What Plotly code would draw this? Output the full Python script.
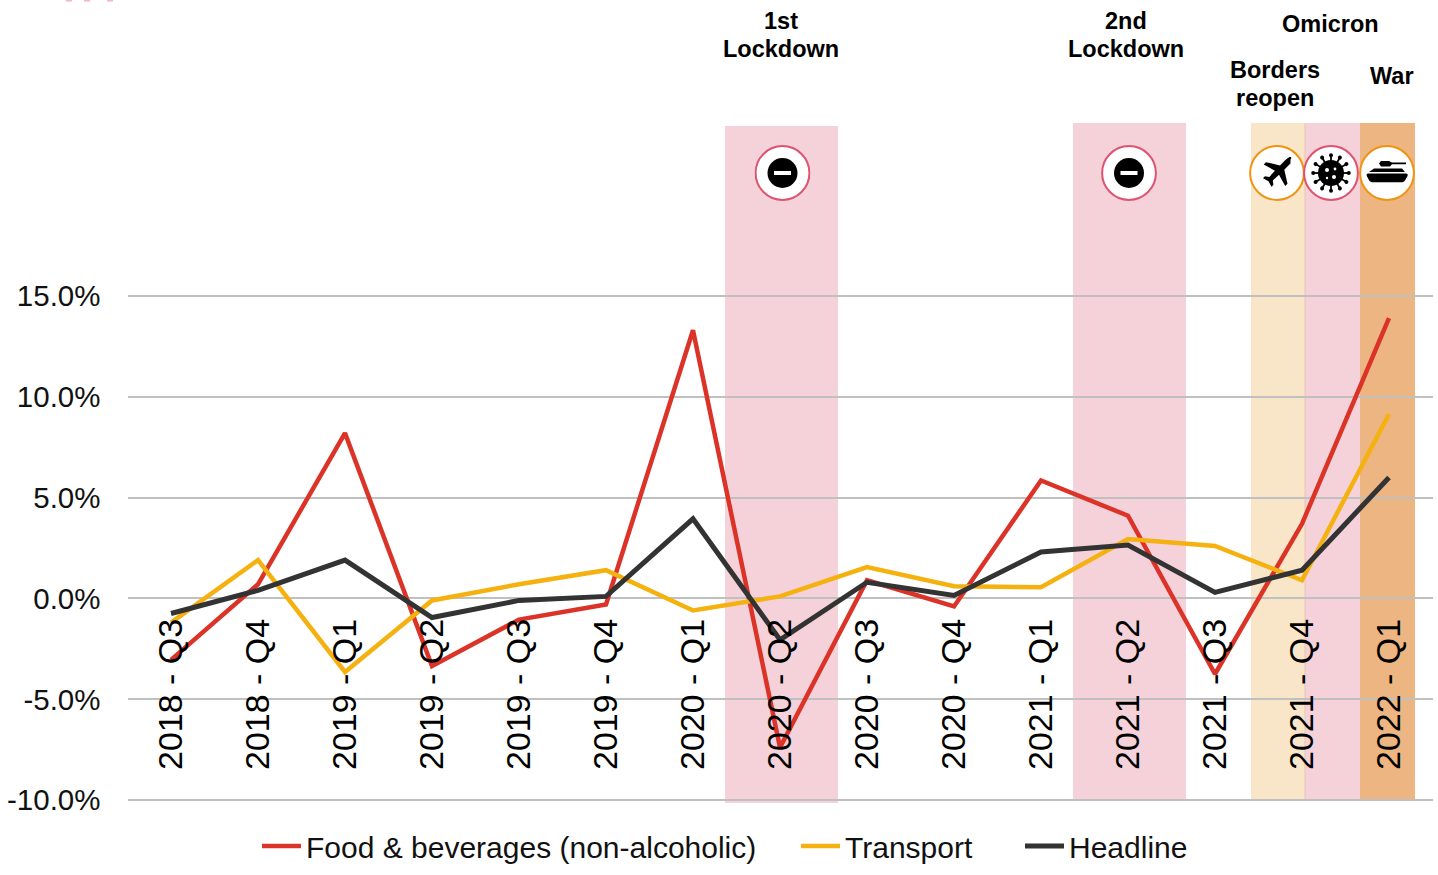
import base64
import plotly.graph_objects as go

W, H = 1438, 875
categories = ["2018 - Q3", "2018 - Q4", "2019 - Q1", "2019 - Q2", "2019 - Q3", "2019 - Q4", "2020 - Q1",
              "2020 - Q2", "2020 - Q3", "2020 - Q4", "2021 - Q1", "2021 - Q2", "2021 - Q3", "2021 - Q4", "2022 - Q1"]
food = [-3.05, 0.7, 8.2, -3.35, -1.05, -0.3, 13.3, -7.4, 0.9, -0.4, 5.85, 4.1, -3.75, 3.7, 13.9]
transport = [-1.2, 1.9, -3.65, -0.1, 0.7, 1.4, -0.6, 0.1, 1.55, 0.6, 0.55, 2.95, 2.6, 0.9, 9.15]
headline = [-0.75, 0.4, 1.9, -0.95, -0.1, 0.1, 3.95, -2.05, 0.8, 0.15, 2.3, 2.65, 0.3, 1.4, 6.0]
y_ticks = [-10, -5, 0, 5, 10, 15]
y_labels = ["-10.0%", "-5.0%", "0.0%", "5.0%", "10.0%", "15.0%"]
FONT = "Liberation Sans"
TXT = "#111111"

def px(x): return x / W
def py(y): return 1 - y / H

fig = go.Figure()
for name, vals, col, w, lg in [("Food & beverages (non-alcoholic)", food, "#DC3328", 4.5, "legend"),
                               ("Transport", transport, "#F5B10F", 4.5, "legend2"),
                               ("Headline", headline, "#333333", 5, "legend3")]:
    fig.add_trace(go.Scatter(x=categories, y=vals, name=name, mode="lines", legend=lg,
                             line=dict(color=col, width=w, shape="linear")))

PINK, CREAM, ORANGE = "#F5D2D9", "#F9E6C8", "#EDB581"
shapes = []
for x0, x1, y0, y1, col in [(725, 838, 126, 803, PINK), (1073, 1186, 123, 800, PINK),
                            (1251, 1305, 123, 800, CREAM), (1305, 1360, 123, 800, PINK),
                            (1360, 1415, 123, 800, ORANGE)]:
    shapes.append(dict(type="rect", xref="paper", yref="paper", x0=px(x0), x1=px(x1), y0=py(y1), y1=py(y0),
                       fillcolor=col, line_width=0, layer="below"))
shapes.append(dict(type="line", xref="paper", yref="paper", x0=px(1305), x1=px(1305), y0=py(800), y1=py(123),
                   line=dict(color="#EBC4B4", width=1), layer="below"))
for xc in [69, 87, 110]:
    shapes.append(dict(type="rect", xref="paper", yref="paper", x0=px(xc - 3), x1=px(xc + 3), y0=py(1.5), y1=py(0),
                       fillcolor="#F7B5C4", line_width=0))

def icon(inner, ring):
    svg = ('<svg xmlns="http://www.w3.org/2000/svg" width="224" height="224" viewBox="0 0 56 56">'
           f'<circle cx="28" cy="28" r="26.9" fill="white" stroke="{ring}" stroke-width="2"/>{inner}</svg>')
    return "data:image/svg+xml;base64," + base64.b64encode(svg.encode()).decode()

no_entry = '<circle cx="28" cy="28" r="15" fill="black"/><rect x="19.5" y="26" width="17" height="4" fill="white"/>'
plane = ('<path fill="black" d="M41.5 14.5c1.6-1.6 .6-3.2-1.4-2.2-1.5.7-3 2-4.5 3.5l-4.6 4.6-14-3.2-2.3 2.3 11.2 6.2-5.6 6.2-4.4-.6-1.9 1.9 '
         '5.5 3 3 5.5 1.9-1.9-.6-4.4 6.2-5.6 6.2 11.2 2.3-2.3-3.2-14 4.6-4.6c.6-.6 1-1.1 1.6-1.6z"/>')
spikes = "".join(f'<g transform="rotate({a} 28 28)"><rect x="27.1" y="9.5" width="1.8" height="7" fill="black"/>'
                 f'<circle cx="28" cy="10.2" r="2" fill="black"/></g>' for a in range(0, 360, 30))
virus = (spikes + '<circle cx="28" cy="28" r="13" fill="black"/>'
         '<circle cx="24" cy="25" r="2" fill="white"/><circle cx="32" cy="24" r="1.4" fill="white"/>'
         '<circle cx="31" cy="32" r="2" fill="white"/><circle cx="24" cy="33" r="1.2" fill="white"/>')
tank = ('<path fill="black" d="M22 16h8l3 1.500h14v1.800H33l-2 2.200h-9l-2-3z"/>'
        '<path fill="black" d="M15 23.500h28l3 3.500H10z"/>'
        '<path fill="black" d="M9 28.500h38c1.500 0 2 1 1.500 2.500L46 35.500c-.8 1-2 1.800-3.500 1.800H14c-1.800 0-3-.8-3.800-1.800L7.800 31C7.300 29.500 7.800 28.500 9 28.500z"/>')
images = []
for xc, yc, inner, ring in [(782.5, 173, no_entry, "#DE5470"), (1129, 173, no_entry, "#DE5470"),
                            (1277, 173, plane, "#EE9412"), (1331, 173, virus, "#DE5470"), (1387, 173, tank, "#EE9412")]:
    images.append(dict(source=icon(inner, ring), xref="paper", yref="paper", x=px(xc), y=py(yc),
                       sizex=56 / W, sizey=56 / H, xanchor="center", yanchor="middle", sizing="stretch", layer="above"))

annos = []
for xc, yc, t in [(780.5, 21, "1st"), (780.5, 49, "Lockdown"), (1126, 21, "2nd"), (1126, 49, "Lockdown"),
                  (1330, 24, "Omicron"), (1275, 70, "Borders"), (1275, 98, "reopen"), (1391.5, 76, "War")]:
    annos.append(dict(text=f"<b>{t}</b>", xref="paper", yref="paper", x=px(xc), y=py(yc), showarrow=False,
                      xanchor="center", yanchor="middle", align="center",
                      font=dict(family=FONT, size=23.5, color="#000000")))

def legend_at(x):
    return dict(orientation="h", x=px(x), y=py(820), xanchor="left", yanchor="top", itemwidth=39,
                font=dict(family=FONT, size=30, color=TXT), bgcolor="rgba(0,0,0,0)")

pad = 4 / 20.16  # four pixels in axis units, so the outer gridlines are kept
fig.update_layout(
    width=W, height=H, autosize=False, margin=dict(l=0, r=0, t=0, b=0, autoexpand=False),
    paper_bgcolor="white", plot_bgcolor="rgba(0,0,0,0)", shapes=shapes, images=images, annotations=annos,
    font=dict(family=FONT, color=TXT), showlegend=True,
    legend=legend_at(257), legend2=legend_at(796), legend3=legend_at(1020),
    xaxis=dict(domain=[px(127.5), px(1432.5)], type="category", categoryorder="array", categoryarray=categories,
               range=[-0.5, 14.5], anchor="free", position=py(611), showgrid=False, zeroline=False, showline=False,
               ticks="", tickangle=-90, tickvals=categories, ticktext=categories,
               tickfont=dict(family=FONT, size=34, color="#000000")),
    yaxis=dict(domain=[py(804), py(292)], range=[-10 - pad, 15 + pad], tickvals=y_ticks, ticktext=y_labels,
               showgrid=True, gridcolor="#C0C0C0", gridwidth=2, zeroline=False, showline=False, ticks="",
               ticklabelstandoff=26, tickfont=dict(family=FONT, size=29.5, color=TXT)),
)
fig.write_html("out.html", post_script="document.body.style.margin='0';", config=dict(displayModeBar=False))
